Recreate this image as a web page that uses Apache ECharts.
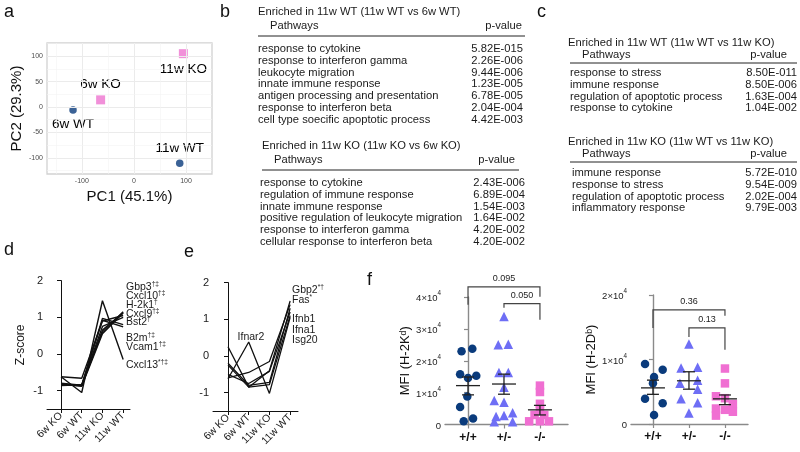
<!DOCTYPE html>
<html><head><meta charset="utf-8">
<script src="https://cdn.jsdelivr.net/npm/echarts@6/dist/echarts.min.js"></script>
<style>html,body{margin:0;padding:0;background:#fff}#c{width:800px;height:452px}</style>
</head><body><div id="c"></div>
<script>
// ---------- DATA ----------
// Panel a: PCA
const pcaNames = ['6w WT', '6w KO', '11w KO', '11w WT'];
const pcaX = [-117, -64, 95, 88];
const pcaY = [-6, 14, 105, -111];
const pcaGroup = ['WT', 'KO', 'KO', 'WT'];
const pcaXTicks = [-100, 0, 100];
const pcaYTicks = [-100, -50, 0, 50, 100];
const pcaXMinor = [-150, -50, 50];
const pcaYMinor = [-125, -75, -25, 25, 75, 125];
const pcaTitles = ['PC1 (45.1%)', 'PC2 (29.3%)'];

// Panel b / c tables
const bWTTitle = 'Enriched in 11w WT (11w WT vs 6w WT)';
const bWTPaths = ['response to cytokine', 'response to interferon gamma', 'leukocyte migration', 'innate immune response', 'antigen processing and presentation', 'response to interferon beta', 'cell type soecific apoptotic process'];
const bWTP = ['5.82E-015', '2.26E-006', '9.44E-006', '1.23E-005', '6.78E-005', '2.04E-004', '4.42E-003'];
const bKOTitle = 'Enriched in 11w KO (11w KO vs 6w KO)';
const bKOPaths = ['response to cytokine', 'regulation of immune response', 'innate immune response', 'positive regulation of leukocyte migration', 'response to interferon gamma', 'cellular response to interferon beta'];
const bKOP = ['2.43E-006', '6.89E-004', '1.54E-003', '1.64E-002', '4.20E-002', '4.20E-002'];
const cWTTitle = 'Enriched in 11w WT (11w WT vs 11w KO)';
const cWTPaths = ['response to stress', 'immune response', 'regulation of apoptotic process', 'response to cytokine'];
const cWTP = ['8.50E-011', '8.50E-006', '1.63E-004', '1.04E-002'];
const cKOTitle = 'Enriched in 11w KO (11w WT vs 11w KO)';
const cKOPaths = ['immune response', 'response to stress', 'regulation of apoptotic process', 'inflammatory response'];
const cKOP = ['5.72E-010', '9.54E-009', '2.02E-004', '9.79E-003'];

// Panel d / e: Z-scores
const timeCats = ['6w KO', '6w WT', '11w KO', '11w WT'];
const zTicks = [-1, 0, 1, 2];
const dGenes = ['Gbp3', 'Cxcl10', 'H-2k1', 'Cxcl9', 'Bst2', 'B2m', 'Vcam1', 'Cxcl13'];
const dMarks = ['†‡', '†‡', '†', '†‡', '†', '†‡', '†‡', '*†‡'];
const dGbp3 = [-0.85, -0.85, 0.60, 1.15];
const dCxcl10 = [-0.82, -0.88, 0.55, 1.12];
const dH2k1 = [-0.62, -0.66, 0.90, 1.05];
const dCxcl9 = [-0.85, -0.86, 0.65, 1.13];
const dBst2 = [-0.80, -0.85, 0.75, 1.00];
const dB2m = [-0.84, -0.86, 0.97, 0.80];
const dVcam1 = [-0.86, -0.84, 0.92, 0.74];
const dCxcl13 = [-0.62, -1.05, 1.45, -0.15];
const dSeries = [dGbp3, dCxcl10, dH2k1, dCxcl9, dBst2, dB2m, dVcam1, dCxcl13];

const eGenes = ['Gbp2', 'Fas', 'Ifnb1', 'Ifna1', 'Isg20'];
const eMarks = ['*†', '*', '', '', ''];
const eGbp2 = [0.25, -0.85, -0.40, 1.50];
const eFas = [-0.60, -0.45, -0.15, 1.40];
const eIfnb1 = [-0.20, -0.80, -0.72, 1.30];
const eIfna1 = [-0.50, -0.75, -0.42, 1.20];
const eIsg20 = [-0.25, -0.85, -0.78, 1.10];
const eIfnar2 = [-0.62, 0.38, -1.02, 1.05];
const eSeries = [eGbp2, eFas, eIfnb1, eIfna1, eIsg20, eIfnar2];

// Panel f: MFI (values in units of 10^4), x = group index + jitter offset
const genotypes = ['+/+', '+/-', '-/-'];
const kdWT = [2.30, 2.38, 1.58, 1.53, 1.46, 0.88, 0.55, 0.10, 0.19];
const kdWTdx = [-0.18, 0.12, -0.22, 0.23, 0, -0.02, -0.22, -0.12, 0.14];
const kdHet = [3.39, 2.50, 2.52, 1.63, 1.63, 1.17, 0.75, 0.70, 0.37, 0.25, 0.28, 0.09, 0.09];
const kdHetdx = [0, -0.16, 0.12, -0.14, 0.12, 0, -0.27, 0, 0.24, -0.22, 0, -0.27, 0.24];
const kdKO = [1.22, 1.02, 0.65, 0.45, 0.30, 0.30, 0.10, 0.10, 0.10];
const kdKOdx = [0, 0, 0, 0, -0.15, 0.12, -0.3, 0, 0.25];
const kdMean = [1.22, 1.27, 0.46];
const kdSemLo = [0.93, 0.95, 0.30];
const kdSemHi = [1.49, 1.58, 0.60];
const kdBrFrom = [0, 1], kdBrTo = [2, 2], kdBrTop = [4.32, 3.79], kdBrLeftEnd = [3.76, 3.66], kdBrRightEnd = [4.01, 3.29];
const kdBrP = ['0.095', '0.050'];

const dbWT = [0.93, 0.84, 0.73, 0.63, 0.39, 0.32, 0.14];
const dbWTdx = [-0.22, 0.27, 0.03, 0, -0.22, 0.27, 0.03];
const dbHet = [1.24, 0.88, 0.87, 0.68, 0.63, 0.54, 0.39, 0.33, 0.17];
const dbHetdx = [0, 0.24, -0.22, 0.24, -0.25, 0.24, -0.22, 0.24, 0];
const dbKO = [0.86, 0.63, 0.43, 0.40, 0.24, 0.31, 0.19, 0.13, 0.22];
const dbKOdx = [0, 0, -0.25, 0, -0.25, 0.22, 0.22, -0.25, 0];
const dbMean = [0.56, 0.67, 0.39];
const dbSemLo = [0.46, 0.54, 0.30];
const dbSemHi = [0.68, 0.81, 0.45];
const dbBrFrom = [0, 1], dbBrTo = [2, 2], dbBrTop = [1.77, 1.49], dbBrLeftEnd = [1.49, 1.35], dbBrRightEnd = [1.68, 1.15];
const dbBrP = ['0.36', '0.13'];
const fTitles = ['MFI (H-2Kᵈ)', 'MFI (H-2Dᵇ)'];

// ---------- STYLE / LAYOUT ----------
const FONT = 'Liberation Sans, Arial, Helvetica, DejaVu Sans, sans-serif';
const NAVY = '#0a3b7c', PINK = '#f06fd2', PERI = '#6e6ef5';
const TXT = '#1a1a1a';

const chart = echarts.init(document.getElementById('c'));

function toXY(vals) { return vals.map((v, i) => [i, v]); }
function jitter(vals, dx, g) { return vals.map((v, i) => [g + dx[i], v]); }

function tableEls(L, title, paths, pvals) {
  const base = { fontFamily: FONT, fontSize: 11.2, fill: TXT, verticalAlign: 'middle' };
  const els = [];
  els.push({ type: 'text', silent: true, style: Object.assign({}, base, { text: title, x: L.titleX, y: L.titleY }) });
  els.push({ type: 'text', silent: true, style: Object.assign({}, base, { text: 'Pathways', x: L.headX, y: L.headY }) });
  els.push({ type: 'text', silent: true, style: Object.assign({}, base, { text: 'p-value', x: L.pHeadR, y: L.headY, align: 'right' }) });
  els.push({ type: 'line', silent: true, shape: { x1: L.ruleX1, y1: L.ruleY, x2: L.ruleX2, y2: L.ruleY }, style: { stroke: '#222', lineWidth: 1 } });
  paths.forEach((p, i) => {
    const y = L.row0 + i * L.step;
    els.push({ type: 'text', silent: true, style: Object.assign({}, base, { text: p, x: L.rowX, y: y }) });
    els.push({ type: 'text', silent: true, style: Object.assign({}, base, { text: pvals[i], x: L.valR, y: y, align: 'right' }) });
  });
  return els;
}

function geneLabel(name, mark, x, y) {
  return {
    type: 'text', silent: true,
    style: {
      x: x, y: y, verticalAlign: 'middle',
      text: mark ? `{n|${name}}{s|${mark}}` : `{n|${name}}`,
      rich: {
        n: { fontFamily: FONT, fontSize: 10.5, fill: TXT, lineHeight: 12, verticalAlign: 'bottom' },
        s: { fontFamily: FONT, fontSize: 6.5, fill: TXT, lineHeight: 7, verticalAlign: 'top' }
      }
    }
  };
}

function meanSemRender(mean, lo, hi) {
  return function (params, api) {
    const i = params.dataIndex;
    const pm = api.coord([i, mean[i]]), pl = api.coord([i, lo[i]]), ph = api.coord([i, hi[i]]);
    const W = 12, C = 6;
    const st = { stroke: '#222', lineWidth: 1.3 };
    return {
      type: 'group', children: [
        { type: 'line', shape: { x1: pm[0] - W, y1: pm[1], x2: pm[0] + W, y2: pm[1] }, style: st },
        { type: 'line', shape: { x1: pl[0], y1: pl[1], x2: ph[0], y2: ph[1] }, style: st },
        { type: 'line', shape: { x1: pl[0] - C, y1: pl[1], x2: pl[0] + C, y2: pl[1] }, style: st },
        { type: 'line', shape: { x1: ph[0] - C, y1: ph[1], x2: ph[0] + C, y2: ph[1] }, style: st }
      ]
    };
  };
}

function bracketRender(from, to, top, le, re, labels) {
  return function (params, api) {
    const i = params.dataIndex;
    const p1 = api.coord([from[i], le[i]]), p2 = api.coord([from[i], top[i]]);
    const p3 = api.coord([to[i], top[i]]), p4 = api.coord([to[i], re[i]]);
    return {
      type: 'group', children: [
        { type: 'polyline', shape: { points: [p1, p2, p3, p4] }, style: { stroke: '#444', lineWidth: 1.2, fill: null } },
        { type: 'text', style: { text: labels[i], x: (p2[0] + p3[0]) / 2, y: p2[1] - 4, align: 'center', verticalAlign: 'bottom', fontSize: 9, fontFamily: FONT, fill: '#222' } }
      ]
    };
  };
}

const supRich = {
  b: { fontSize: 9.5, color: '#222', lineHeight: 13, verticalAlign: 'bottom', fontFamily: FONT },
  s: { fontSize: 6.3, color: '#222', lineHeight: 7, verticalAlign: 'top', fontFamily: FONT }
};
function sciLabel(v) { return v === 0 ? '{b|0}' : `{b|${v}×10}{s|4}`; }

// d / e line series
const lineSeries = [];
dSeries.forEach((vals, k) => lineSeries.push({
  type: 'line', xAxisIndex: 1, yAxisIndex: 1, data: toXY(vals), symbol: 'none', silent: true,
  lineStyle: { color: '#111', width: 1.4 }, z: 3, name: dGenes[k]
}));
eSeries.forEach((vals, k) => lineSeries.push({
  type: 'line', xAxisIndex: 2, yAxisIndex: 2, data: toXY(vals), symbol: 'none', silent: true,
  lineStyle: { color: '#111', width: 1.3 }, z: 3
}));

// PCA gridlines
const gridMajor = { color: '#ebebeb', width: 1, type: 'solid' };
const gridMinor = { color: '#f4f4f4', width: 0.6, type: 'solid' };
const pcaGridLines = []
  .concat(pcaXTicks.map(v => ({ xAxis: v, lineStyle: gridMajor })))
  .concat(pcaYTicks.map(v => ({ yAxis: v, lineStyle: gridMajor })))
  .concat(pcaXMinor.map(v => ({ xAxis: v, lineStyle: gridMinor })))
  .concat(pcaYMinor.map(v => ({ yAxis: v, lineStyle: gridMinor })));

const pcaLabelPos = { '6w WT': 'bottom', '6w KO': 'top', '11w KO': 'bottom', '11w WT': 'top' };
const pcaData = pcaNames.map((n, i) => ({
  name: n, value: [pcaX[i], pcaY[i]],
  symbol: pcaGroup[i] === 'WT' ? 'circle' : 'rect',
  symbolSize: pcaGroup[i] === 'WT' ? 7.5 : 9,
  itemStyle: { color: pcaGroup[i] === 'WT' ? NAVY : '#ee74cf' },
  label: { show: true, position: pcaLabelPos[n], color: '#000', fontSize: 13.5, distance: 4, fontFamily: FONT, textBorderWidth: 0, opacity: 1 }
}));

function zAxisY(gi) {
  return {
    gridIndex: gi, type: 'value', min: -1.5, max: 2,
    axisLine: { show: true, lineStyle: { color: '#111', width: 1 } },
    axisTick: { show: true, length: 4, inside: false, customValues: zTicks, lineStyle: { color: '#111' } },
    axisLabel: { customValues: zTicks, fontSize: 11, color: TXT, margin: 4, fontFamily: FONT },
    splitLine: { show: false }
  };
}
function timeAxisX(gi, min, max) {
  return {
    gridIndex: gi, type: 'value', min: min, max: max,
    axisLine: { show: true, onZero: false, lineStyle: { color: '#111', width: 1 } },
    axisTick: { show: true, length: 4, customValues: [0, 1, 2, 3], lineStyle: { color: '#111' } },
    axisLabel: { customValues: [0, 1, 2, 3], rotate: 45, fontSize: 10.5, color: TXT, margin: 5, fontFamily: FONT, formatter: v => timeCats[v] },
    splitLine: { show: false }
  };
}
function genoAxisX(gi, min, max) {
  return {
    gridIndex: gi, type: 'value', min: min, max: max,
    axisLine: { show: true, onZero: false, lineStyle: { color: '#8a8a8a', width: 1.4 } },
    axisTick: { show: true, length: 4, customValues: [0, 1, 2], lineStyle: { color: '#8a8a8a', width: 1.2 } },
    axisLabel: { customValues: [0, 1, 2], fontSize: 12, fontWeight: 'bold', color: '#111', margin: 7, fontFamily: FONT, formatter: v => genotypes[v] },
    splitLine: { show: false }
  };
}
function mfiAxisY(gi, max, name) {
  return {
    gridIndex: gi, type: 'value', min: 0, max: max, interval: 1,
    name: name, nameLocation: 'middle', nameGap: 30, nameRotate: 90,
    nameTextStyle: { fontSize: 13, color: '#111', fontFamily: FONT },
    axisLine: { show: true, lineStyle: { color: '#8a8a8a', width: 1.4 } },
    axisTick: { show: true, length: 4, lineStyle: { color: '#8a8a8a', width: 1.2 } },
    axisLabel: { formatter: sciLabel, rich: supRich, margin: 4 },
    splitLine: { show: false }
  };
}

function scatterF(xi, data, symbol, size, color) {
  return {
    type: 'scatter', xAxisIndex: xi, yAxisIndex: xi, data: data, symbol: symbol, symbolSize: size,
    itemStyle: { color: color, opacity: 1 }, silent: true, z: 3
  };
}

function panelLabel(t, x, y) {
  return { type: 'text', silent: true, style: { text: t, x: x, y: y, fontSize: 18, fontFamily: FONT, fill: '#111', verticalAlign: 'middle' } };
}

const graphicEls = [
  panelLabel('a', 4, 12), panelLabel('b', 220, 12), panelLabel('c', 537, 12),
  panelLabel('d', 4, 250), panelLabel('e', 184, 252), panelLabel('f', 367, 280)
]
  .concat(tableEls({ titleX: 258, titleY: 12, headX: 270, headY: 26, pHeadR: 522, ruleX1: 258, ruleX2: 525, ruleY: 36, rowX: 258, row0: 49, step: 11.8, valR: 523 }, bWTTitle, bWTPaths, bWTP))
  .concat(tableEls({ titleX: 262, titleY: 146, headX: 274, headY: 160, pHeadR: 515, ruleX1: 262, ruleX2: 519, ruleY: 170, rowX: 260, row0: 183, step: 11.8, valR: 525 }, bKOTitle, bKOPaths, bKOP))
  .concat(tableEls({ titleX: 568, titleY: 43, headX: 582, headY: 55, pHeadR: 787, ruleX1: 570, ruleX2: 797, ruleY: 63, rowX: 570, row0: 73, step: 11.8, valR: 797 }, cWTTitle, cWTPaths, cWTP))
  .concat(tableEls({ titleX: 568, titleY: 142, headX: 582, headY: 154, pHeadR: 787, ruleX1: 570, ruleX2: 797, ruleY: 162, rowX: 572, row0: 173, step: 11.8, valR: 797 }, cKOTitle, cKOPaths, cKOP));

const dLabelY = [287, 296, 305, 314, 322, 338, 347, 365];
dGenes.forEach((g, i) => graphicEls.push(geneLabel(g, dMarks[i], 126, dLabelY[i])));
const eLabelY = [290, 300, 319, 330, 340];
eGenes.forEach((g, i) => graphicEls.push(geneLabel(g, eMarks[i], 292, eLabelY[i])));
graphicEls.push({ type: 'text', silent: true, style: { text: 'Ifnar2', x: 251, y: 337, align: 'center', verticalAlign: 'middle', fontSize: 10.5, fontFamily: FONT, fill: TXT } });

const option = {
  animation: false,
  backgroundColor: '#ffffff',
  textStyle: { fontFamily: FONT },
  grid: [
    { left: 47, top: 43, width: 165, height: 131, show: true, borderColor: '#d2d2d2', borderWidth: 1.3, backgroundColor: 'transparent' },
    { left: 47, top: 280.6, width: 83, height: 128.4 },
    { left: 213, top: 282.6, width: 85, height: 128.4 },
    { left: 445, top: 297, width: 123, height: 127.5 },
    { left: 631, top: 295, width: 117, height: 129 }
  ],
  xAxis: [
    {
      gridIndex: 0, type: 'value', min: -167, max: 150,
      name: pcaTitles[0], nameLocation: 'middle', nameGap: 15,
      nameTextStyle: { fontSize: 15, color: '#111', fontFamily: FONT },
      axisLine: { show: false },
      axisTick: { show: true, length: 2.5, customValues: pcaXTicks, lineStyle: { color: '#444' } },
      axisLabel: { customValues: pcaXTicks, fontSize: 7, color: '#4d4d4d', margin: 4 },
      splitLine: { show: false }
    },
    timeAxisX(1, -0.676, 3.33),
    timeAxisX(2, -0.725, 3.38),
    genoAxisX(3, -0.64, 2.78),
    genoAxisX(4, -0.61, 2.64)
  ],
  yAxis: [
    {
      gridIndex: 0, type: 'value', min: -132, max: 126,
      name: pcaTitles[1], nameLocation: 'middle', nameGap: 23, nameRotate: 90,
      nameTextStyle: { fontSize: 15, color: '#111', fontFamily: FONT },
      axisLine: { show: false },
      axisTick: { show: true, length: 2.5, customValues: pcaYTicks, lineStyle: { color: '#444' } },
      axisLabel: { customValues: pcaYTicks, fontSize: 7, color: '#4d4d4d', margin: 4 },
      splitLine: { show: false }
    },
    Object.assign(zAxisY(1), { name: 'Z-score', nameLocation: 'middle', nameGap: 20, nameRotate: 90, nameTextStyle: { fontSize: 12, color: TXT, fontFamily: FONT } }),
    zAxisY(2),
    mfiAxisY(3, 4, fTitles[0]),
    mfiAxisY(4, 2, fTitles[1])
  ],
  series: [
    {
      type: 'scatter', xAxisIndex: 0, yAxisIndex: 0, data: [], silent: true,
      markLine: { silent: true, symbol: ['none', 'none'], label: { show: false }, animation: false, data: pcaGridLines }
    },
    {
      type: 'scatter', xAxisIndex: 0, yAxisIndex: 0, data: pcaData, silent: true, z: 4,
      label: { show: true, formatter: p => p.name, fontSize: 13.5, color: '#000', distance: 4, fontFamily: FONT, textBorderWidth: 0 },
      labelLayout: { hideOverlap: false }
    }
  ].concat(lineSeries).concat([
    scatterF(3, jitter(kdWT, kdWTdx, 0), 'circle', 8.5, NAVY),
    scatterF(3, jitter(kdHet, kdHetdx, 1), 'triangle', 9.5, PERI),
    scatterF(3, jitter(kdKO, kdKOdx, 2), 'rect', 8.5, PINK),
    { type: 'custom', xAxisIndex: 3, yAxisIndex: 3, data: genotypes.map((g, i) => [i, kdMean[i]]), renderItem: meanSemRender(kdMean, kdSemLo, kdSemHi), z: 6, silent: true, clip: false },
    { type: 'custom', xAxisIndex: 3, yAxisIndex: 3, data: kdBrP.map((p, i) => [kdBrFrom[i], kdBrTop[i]]), renderItem: bracketRender(kdBrFrom, kdBrTo, kdBrTop, kdBrLeftEnd, kdBrRightEnd, kdBrP), z: 6, silent: true, clip: false },
    scatterF(4, jitter(dbWT, dbWTdx, 0), 'circle', 8.5, NAVY),
    scatterF(4, jitter(dbHet, dbHetdx, 1), 'triangle', 9.5, PERI),
    scatterF(4, jitter(dbKO, dbKOdx, 2), 'rect', 8.5, PINK),
    { type: 'custom', xAxisIndex: 4, yAxisIndex: 4, data: genotypes.map((g, i) => [i, dbMean[i]]), renderItem: meanSemRender(dbMean, dbSemLo, dbSemHi), z: 6, silent: true, clip: false },
    { type: 'custom', xAxisIndex: 4, yAxisIndex: 4, data: dbBrP.map((p, i) => [dbBrFrom[i], dbBrTop[i]]), renderItem: bracketRender(dbBrFrom, dbBrTo, dbBrTop, dbBrLeftEnd, dbBrRightEnd, dbBrP), z: 6, silent: true, clip: false }
  ]),
  graphic: { elements: graphicEls }
};
chart.setOption(option);
</script>
</body></html>
